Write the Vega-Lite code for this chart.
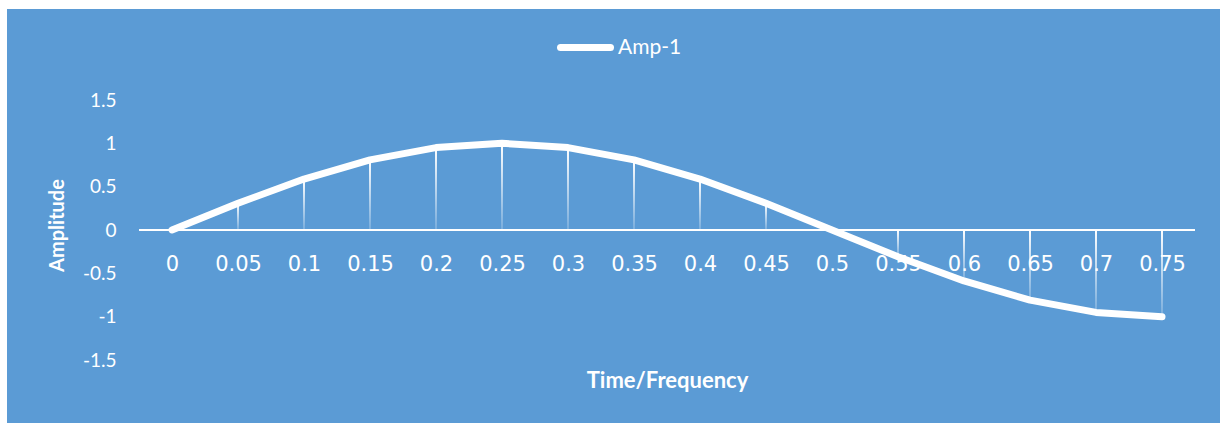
{
  "$schema": "https://vega.github.io/schema/vega-lite/v6.json",
  "width": 1213,
  "height": 414,
  "autosize": {"type": "none"},
  "padding": {"left": 7, "top": 9, "right": 0, "bottom": 0},
  "background": "#ffffff",
  "config": {
    "view": {"fill": "#5B9BD5", "stroke": null},
    "font": "Lato"
  },
  "data": {
    "values": [
      {"t": 0, "amp": 0, "series": "Amp-1"},
      {"t": 0.05, "amp": 0.309, "series": "Amp-1"},
      {"t": 0.1, "amp": 0.588, "series": "Amp-1"},
      {"t": 0.15, "amp": 0.809, "series": "Amp-1"},
      {"t": 0.2, "amp": 0.951, "series": "Amp-1"},
      {"t": 0.25, "amp": 1, "series": "Amp-1"},
      {"t": 0.3, "amp": 0.951, "series": "Amp-1"},
      {"t": 0.35, "amp": 0.809, "series": "Amp-1"},
      {"t": 0.4, "amp": 0.588, "series": "Amp-1"},
      {"t": 0.45, "amp": 0.309, "series": "Amp-1"},
      {"t": 0.5, "amp": 0, "series": "Amp-1"},
      {"t": 0.55, "amp": -0.309, "series": "Amp-1"},
      {"t": 0.6, "amp": -0.588, "series": "Amp-1"},
      {"t": 0.65, "amp": -0.809, "series": "Amp-1"},
      {"t": 0.7, "amp": -0.951, "series": "Amp-1"},
      {"t": 0.75, "amp": -1, "series": "Amp-1"}
    ]
  },
  "layer": [
    {
      "data": {"values": [{}]},
      "mark": {"type": "rule", "stroke": "#ffffff", "strokeWidth": 2},
      "encoding": {
        "x": {
          "datum": -0.025,
          "type": "quantitative",
          "scale": {"domain": [-0.025, 0.775], "range": [132, 1188], "nice": false, "zero": false, "padding": 0},
          "axis": {
            "values": [0, 0.05, 0.1, 0.15, 0.2, 0.25, 0.3, 0.35, 0.4, 0.45, 0.5, 0.55, 0.6, 0.65, 0.7, 0.75],
            "labelExpr": "toString(datum.value)",
            "domain": false,
            "ticks": false,
            "grid": false,
            "labelColor": "#ffffff",
            "labelFont": "DejaVu Sans",
            "labelFontSize": 21,
            "labelPadding": 23,
            "labelFlush": false,
            "labelOverlap": false,
            "labelBound": false,
            "offset": -193,
            "title": "Time/Frequency",
            "titleColor": "#ffffff",
            "titleFont": "Lato",
            "titleFontSize": 22,
            "titleFontWeight": "bold",
            "titleX": 660,
            "titleY": 150,
            "titleAlign": "center",
            "titleBaseline": "middle"
          }
        },
        "x2": {"datum": 0.775},
        "y": {
          "datum": 0,
          "type": "quantitative",
          "scale": {"domain": [-1.5, 1.5], "range": [351, 91], "nice": false, "zero": false, "padding": 0},
          "axis": {
            "values": [-1.5, -1, -0.5, 0, 0.5, 1, 1.5],
            "labelExpr": "toString(datum.value)",
            "domain": false,
            "ticks": false,
            "grid": false,
            "labelColor": "#ffffff",
            "labelFont": "Lato",
            "labelFontSize": 19,
            "labelPadding": 0,
            "labelFlush": false,
            "labelOverlap": false,
            "labelBound": false,
            "offset": -109,
            "title": "Amplitude",
            "titleColor": "#ffffff",
            "titleFont": "Lato",
            "titleFontSize": 20,
            "titleFontWeight": "bold",
            "titleAngle": -90,
            "titleX": -59,
            "titleY": 216,
            "titleAlign": "center",
            "titleBaseline": "middle"
          }
        }
      }
    },
    {
      "mark": {
        "type": "bar",
        "size": 2,
        "fill": {
          "gradient": "linear",
          "x1": 0, "y1": 0, "x2": 0, "y2": 1,
          "stops": [
            {"offset": 0, "color": "#ffffff"},
            {"offset": 1, "color": "rgba(255,255,255,0.18)"}
          ]
        }
      },
      "encoding": {
        "x": {"field": "t", "type": "quantitative"},
        "y": {"field": "amp", "type": "quantitative"},
        "y2": {"datum": 0}
      }
    },
    {
      "mark": {"type": "line", "strokeWidth": 7, "strokeCap": "round", "strokeJoin": "round"},
      "encoding": {
        "x": {"field": "t", "type": "quantitative"},
        "y": {"field": "amp", "type": "quantitative"},
        "color": {
          "field": "series",
          "type": "nominal",
          "scale": {"range": ["#ffffff"]},
          "legend": {
            "orient": "none",
            "legendX": 550,
            "legendY": 10,
            "title": null,
            "symbolType": "stroke",
            "symbolSize": 2500,
            "symbolStrokeWidth": 7,
            "labelFont": "Lato",
            "labelFontSize": 21,
            "labelColor": "#ffffff",
            "labelOffset": 4,
            "encode": {"symbols": {"update": {"strokeCap": {"value": "round"}}}}
          }
        }
      }
    }
  ]
}
